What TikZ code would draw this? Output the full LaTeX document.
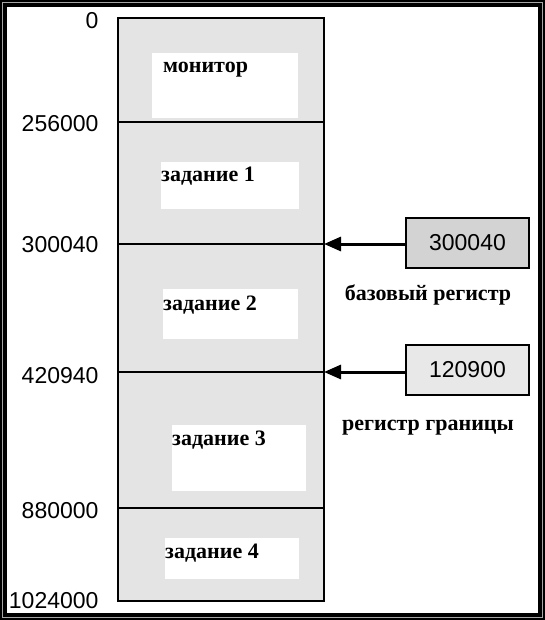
\documentclass[tikz,border=0pt]{standalone}
\usepackage{fontspec}
\setmainfont{Liberation Serif}
\setsansfont{Liberation Sans}
\usetikzlibrary{arrows.meta}

\definecolor{memgray}{HTML}{E5E4E4}
\definecolor{basegray}{HTML}{D3D3D3}
\definecolor{limgray}{HTML}{E8E8E8}

\begin{document}
\begin{tikzpicture}[x=1pt,y=-1pt,
		addr/.style={anchor=east,font=\sffamily\fontsize{23}{26}\selectfont},
		job/.style={anchor=base west,inner sep=0pt,font=\bfseries\fontsize{22}{25}\selectfont},
		regbox/.style={draw,line width=1.2pt,minimum width=123pt,minimum height=50pt,font=\sffamily\fontsize{23}{26}\selectfont},
		reglabel/.style={anchor=base,inner sep=0pt,font=\bfseries\fontsize{22}{25}\selectfont},
		ptr/.style={line width=3pt,-{Triangle[length=17pt,width=14pt]}}]
		% frame
		\fill[black] (0,0) rectangle (545,620);
		\fill[gray!70] (2,2) rectangle (543,618);
		\fill[black] (3,3) rectangle (542,617);
		\fill[white] (7,7) rectangle (538,613);
		% memory
		\filldraw[fill=memgray,line width=1.5pt] (118,18) rectangle (324,601);
		\fill[white] (152,53) rectangle (298,118);
		\fill[white] (161,162) rectangle (299,209);
		\fill[white] (163,289) rectangle (298,339);
		\fill[white] (172,425) rectangle (306,491);
		\fill[white] (165,538) rectangle (299,579);
		\draw[line width=2pt] (118,122) -- (324,122);
		\draw[line width=2pt] (118,244) -- (324,244);
		\draw[line width=2pt] (118,372) -- (324,372);
		\draw[line width=2pt] (118,508) -- (324,508);
		\coordinate (m300040) at (324,244);
		\coordinate (m420940) at (324,372);
		\node[job] (mon) at (163,73) {монитор};
		\node[job] (job1) at (161,182) {задание 1};
		\node[job] (job2) at (163,310) {задание 2};
		\node[job] (job3) at (172,445) {задание 3};
		\node[job] (job4) at (165,558) {задание 4};
		% addresses
		\node[addr] (a0) at (102,21) {0};
		\node[addr] (a1) at (102,124) {256000};
		\node[addr] (a2) at (102,245) {300040};
		\node[addr] (a3) at (102,376) {420940};
		\node[addr] (a4) at (102,511) {880000};
		\node[addr] (a5) at (102,601) {1024000};
		% registers
		\node[regbox,fill=basegray] (base) at (467.5,243) {300040};
		\node[regbox,fill=limgray] (limit) at (467.5,370) {120900};
		\draw[ptr] (base.west|-m300040) -- (m300040);
		\draw[ptr] (limit.west|-m420940) -- (m420940);
		\node[reglabel] (baselbl) at (428,300) {базовый регистр};
		\node[reglabel] (limlbl) at (428,430) {регистр границы};
	\end{tikzpicture}
\end{document}
